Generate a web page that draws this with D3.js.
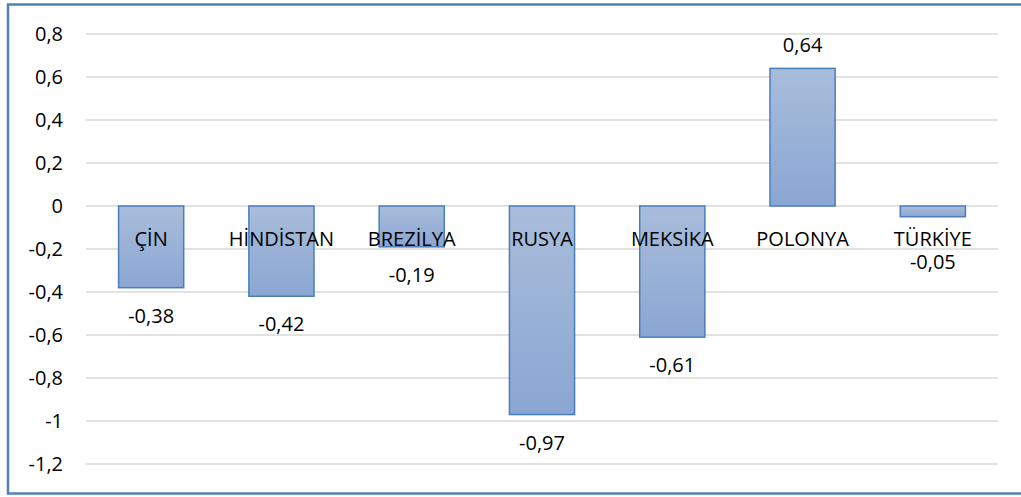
<!DOCTYPE html>
<html>
<head>
<meta charset="utf-8">
<script src="https://cdn.jsdelivr.net/npm/d3@7"></script>
<style>
  body { margin: 0; background: #fff; overflow: hidden; }
  svg text { font-family: 'Open Sans', sans-serif; font-size: 20px; fill: #000; }
</style>
</head>
<body>
<div id="chart"></div>
<script>
var countries = ['ÇİN', 'HİNDİSTAN', 'BREZİLYA', 'RUSYA', 'MEKSİKA', 'POLONYA', 'TÜRKİYE']
var values = [-0.38, -0.42, -0.19, -0.97, -0.61, 0.64, -0.05]
var yTicks = [0.8, 0.6, 0.4, 0.2, 0, -0.2, -0.4, -0.6, -0.8, -1, -1.2]

var width = 1021, height = 497
var margin = {left: 86, right: 23, top: 34, bottom: 33}

var svg = d3.select('#chart').append('svg')
  .attr('width', width)
  .attr('height', height)

var fmt = d => String(d).replace('.', ',')

var x = d3.scaleBand()
  .domain(countries)
  .range([margin.left, width - margin.right])
  .paddingInner(0.5)
  .paddingOuter(0.25)

var y = d3.scaleLinear()
  .domain([-1.2, 0.8])
  .range([height - margin.bottom, margin.top])

var defs = svg.append('defs')
var grad = defs.append('linearGradient')
  .attr('id', 'barfill')
  .attr('x1', 0).attr('y1', 0).attr('x2', 0).attr('y2', 1)
grad.append('stop').attr('offset', '0%').attr('stop-color', '#a9bddb')
grad.append('stop').attr('offset', '100%').attr('stop-color', '#8aa6d2')

// outer frame (right edge runs past the picture)
svg.append('rect')
  .attr('x', 8).attr('y', 4.5)
  .attr('width', width).attr('height', height - 8)
  .attr('fill', '#fff')
  .attr('stroke', '#4f81bd')
  .attr('stroke-width', 2.5)

// grid + tick labels
var grid = svg.append('g')
grid.selectAll('line').data(yTicks).join('line')
  .attr('x1', margin.left).attr('x2', width - margin.right)
  .attr('y1', d => y(d)).attr('y2', d => y(d))
  .attr('stroke', '#d9d9d9')
  .attr('stroke-width', 1.5)

grid.selectAll('text').data(yTicks).join('text')
  .attr('x', 63)
  .attr('y', d => y(d))
  .attr('dy', '0.36em')
  .attr('text-anchor', 'end')
  .text(fmt)

// bars
svg.append('g').selectAll('rect').data(values).join('rect')
  .attr('x', (d, i) => x(countries[i]))
  .attr('width', x.bandwidth())
  .attr('y', d => y(Math.max(0, d)))
  .attr('height', d => Math.abs(y(d) - y(0)))
  .attr('fill', 'url(#barfill)')
  .attr('stroke', '#4a7ebb')
  .attr('stroke-width', 1.5)

// category labels just under the zero line
var catY = y(0) + 40
svg.append('g').selectAll('text').data(countries).join('text')
  .attr('x', d => x(d) + x.bandwidth() / 2)
  .attr('y', catY)
  .attr('text-anchor', 'middle')
  .text(d => d)

// value labels outside bar ends
svg.append('g').selectAll('text').data(values).join('text')
  .attr('x', (d, i) => x(countries[i]) + x.bandwidth() / 2)
  .attr('y', d => d >= 0 ? y(d) - 16 : Math.max(y(d) + 35, catY + 23))
  .attr('text-anchor', 'middle')
  .text(fmt)
</script>
</body>
</html>
